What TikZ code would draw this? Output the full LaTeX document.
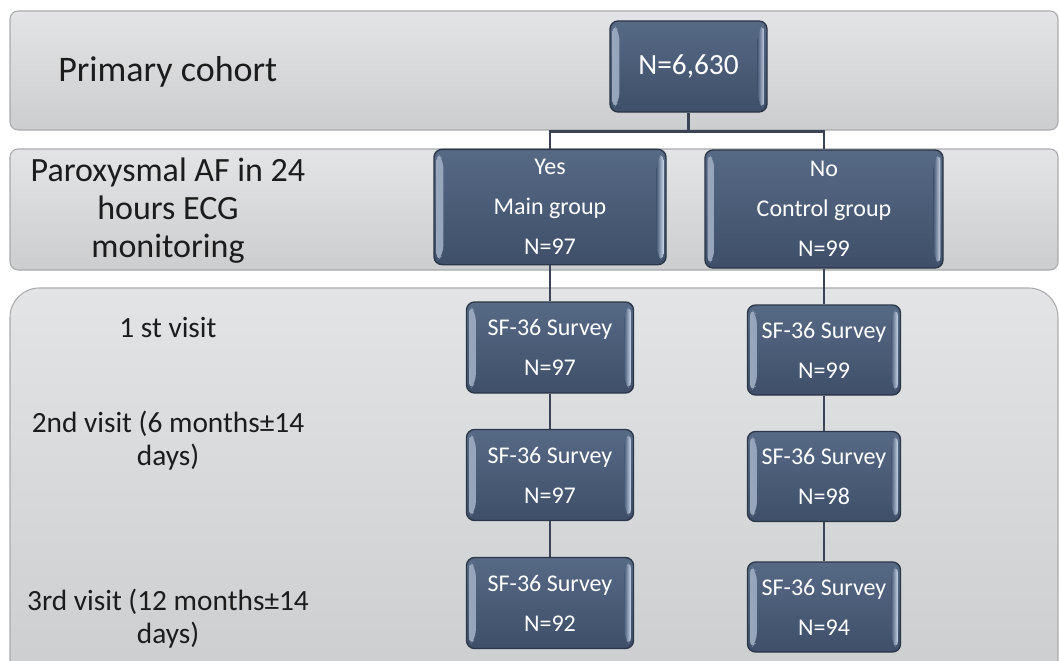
\documentclass[tikz,border=0pt]{standalone}
\usepackage{fontspec}
\setmainfont{Carlito}
\usetikzlibrary{calc}
\definecolor{bandtop}{HTML}{E2E4E6}
\definecolor{bandbot}{HTML}{CBCDCF}
\definecolor{bandedge}{HTML}{A8AAAD}
\definecolor{boxtop}{HTML}{566985}
\definecolor{boxbot}{HTML}{3F4F69}
\definecolor{boxmid}{HTML}{4A5C79}
\definecolor{boxedge}{HTML}{2B3647}
\definecolor{bevelL}{HTML}{9AA8BE}
\definecolor{bevelR}{HTML}{C9D6EA}
\definecolor{linecol}{HTML}{3A4454}
\definecolor{labelcol}{HTML}{1C1C1C}
\tikzset{
  band/.style={draw=bandedge, line width=0.8pt, top color=bandtop, bottom color=bandbot, rounded corners=6pt},
  slate/.style={draw=boxedge, line width=1pt, top color=boxtop, bottom color=boxbot,
    rounded corners=6pt, text=white, align=center, inner sep=0pt,
    font=\fontsize{18}{30}\selectfont,
    path picture={
      \shade[left color=bevelL, right color=boxmid]
        ([xshift=2pt,yshift=-2pt]path picture bounding box.north west) --
        ([xshift=7pt,yshift=-8pt]path picture bounding box.north west) --
        ([xshift=7pt,yshift=8pt]path picture bounding box.south west) --
        ([xshift=2pt,yshift=2pt]path picture bounding box.south west) -- cycle;
      \shade[left color=boxmid, right color=bevelR]
        ([xshift=-2pt,yshift=-2pt]path picture bounding box.north east) --
        ([xshift=-7pt,yshift=-8pt]path picture bounding box.north east) --
        ([xshift=-7pt,yshift=8pt]path picture bounding box.south east) --
        ([xshift=-2pt,yshift=2pt]path picture bounding box.south east) -- cycle;
    }},
  bigbox/.style={slate, minimum width=117.75pt, minimum height=68.25pt, font=\fontsize{22}{30}\selectfont},
  groupbox/.style={slate, minimum width=174pt, minimum height=86.5pt},
  sfleft/.style={slate, minimum width=125.25pt, minimum height=68.25pt},
  sfright/.style={slate, minimum width=114.75pt, minimum height=67.5pt},
  conn/.style={draw=linecol, line width=2.2pt},
  rowlabel/.style={text=labelcol, align=center, inner sep=0pt},
}
\begin{document}
\begin{tikzpicture}[x=0.75pt,y=-0.75pt]
\useasboundingbox (0,0) rectangle (1059,660);
\clip (0,0) rectangle (1059,660);
% bands
\path[band] (10,11) rectangle (1058,130);
\path[band] (10,149) rectangle (1058,270);
\path[band, rounded corners=22pt] (10,288) rectangle (1058,690);
% row labels
\node[rowlabel, anchor=base west, font=\fontsize{27}{32}\selectfont] (lcohort) at (58,82) {Primary cohort};
\node[rowlabel, font=\fontsize{25.5}{28.5}\selectfont] (lparox) at (168,211) {Paroxysmal AF in 24\\hours ECG\\monitoring};
\node[rowlabel, anchor=base, font=\fontsize{22}{24.75}\selectfont] (lv1) at (168,337) {1 st visit};
\node[rowlabel, font=\fontsize{22}{24.75}\selectfont] (lv2) at (168,441) {2nd visit (6 months±14\\days)};
\node[rowlabel, font=\fontsize{22}{24.75}\selectfont] (lv3) at (168,619) {3rd visit (12 months±14\\days)};
% boxes
\node[bigbox] (top) at (688.5,66.5) {N=6,630};
\node[groupbox] (yes) at (550,207) {Yes\\Main group\\N=97};
\node[groupbox, minimum width=178.5pt, minimum height=88.5pt] (no) at (824,209) {No\\Control group\\N=99};
\node[sfleft] (l1) at (550,347.5) {SF-36 Survey\\N=97};
\node[sfleft] (l2) at (550,475) {SF-36 Survey\\N=97};
\node[sfleft] (l3) at (550,603) {SF-36 Survey\\N=92};
\node[sfright] (r1) at (824,350) {SF-36 Survey\\N=99};
\node[sfright] (r2) at (824,476.5) {SF-36 Survey\\N=98};
\node[sfright] (r3) at (824,607) {SF-36 Survey\\N=94};
% connectors
\draw[conn] (top.south) -- ++(0,19) -| (yes.north);
\draw[conn] (top.south) -- ++(0,19) -| (no.north);
\draw[conn] (yes.south) -- (l1.north);
\draw[conn] (l1.south) -- (l2.north);
\draw[conn] (l2.south) -- (l3.north);
\draw[conn] (no.south) -- (r1.north);
\draw[conn] (r1.south) -- (r2.north);
\draw[conn] (r2.south) -- (r3.north);
\end{tikzpicture}
\end{document}
